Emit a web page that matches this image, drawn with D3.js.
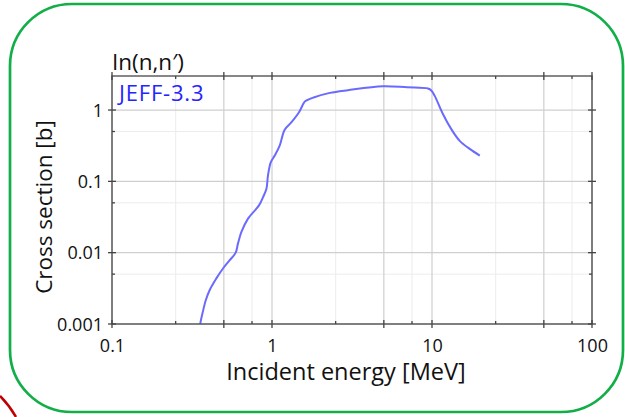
<!DOCTYPE html>
<html>
<head>
<meta charset="utf-8">
<script src="https://cdn.jsdelivr.net/npm/d3@7"></script>
<style>
body { margin: 0; background: #fff; }
text { font-family: "Open Sans", sans-serif; fill: #111; }
</style>
</head>
<body>
<svg id="chart"></svg>
<script>
let w = 625;
let h = 417;
let chart;

// In(n,n') cross section, JEFF-3.3
const energy = [0.350, 0.356, 0.370, 0.386, 0.408, 0.449, 0.494, 0.544, 0.593, 0.613,
    0.644, 0.708, 0.829, 0.879, 0.923, 0.944, 0.982, 1.04, 1.117, 1.2,
    1.32, 1.475, 1.578, 1.62, 1.82, 2.3, 2.98, 4.94, 7.0, 9.44,
    9.9, 10.4, 11.7, 13.2, 14.9, 17.2, 19.9];
const sigma = [0.0007, 0.001, 0.0015, 0.00217, 0.003, 0.00436, 0.006, 0.00785, 0.01, 0.0135,
    0.0195, 0.030, 0.046, 0.060, 0.079, 0.121, 0.185, 0.23, 0.317, 0.53,
    0.67, 0.93, 1.25, 1.34, 1.50, 1.74, 1.90, 2.16, 2.08, 2.0,
    1.88, 1.58, 0.88, 0.54, 0.37, 0.285, 0.23];

const xMajor = [0.1, 0.5, 1, 5, 10, 50, 100];
const xMinor = [0.25, 0.75, 2.5, 7.5, 25, 75];
const xLabels = [0.1, 1, 10, 100];
const yMajor = [0.001, 0.01, 0.1, 1];
const yMinor = [0.005, 0.05, 0.5];
const yLabels = [0.001, 0.01, 0.1, 1];

const plot = {left: 112, right: 592, top: 76, bottom: 324};

function createGraph() {
    chart = d3.select('#chart')
        .attr('width', w)
        .attr('height', h);

    // green rounded frame and the red arc peeking in at the corner
    chart.append('rect')
        .attr('x', 10).attr('y', 4)
        .attr('width', 613).attr('height', 408)
        .attr('rx', 62).attr('ry', 62)
        .style('fill', 'none')
        .style('stroke', '#12ae48')
        .style('stroke-width', 2.7);

    chart.append('path')
        .attr('d', 'M0,396 Q9,405 16,417')
        .style('fill', 'none')
        .style('stroke', '#c00000')
        .style('stroke-width', 2.5);

    const x = d3.scaleLog().domain([0.1, 100]).range([plot.left, plot.right]);
    const y = d3.scaleLog().domain([0.001, 3]).range([plot.bottom, plot.top]);

    // grid
    const grid = chart.append('g');
    grid.selectAll('.vmin').data(xMinor).enter().append('line')
        .attr('x1', d => x(d)).attr('x2', d => x(d))
        .attr('y1', plot.top).attr('y2', plot.bottom)
        .style('stroke', '#ececec').style('stroke-width', 1);
    grid.selectAll('.hmin').data(yMinor).enter().append('line')
        .attr('y1', d => y(d)).attr('y2', d => y(d))
        .attr('x1', plot.left).attr('x2', plot.right)
        .style('stroke', '#ececec').style('stroke-width', 1);
    grid.selectAll('.vmaj').data(xMajor).enter().append('line')
        .attr('x1', d => x(d)).attr('x2', d => x(d))
        .attr('y1', plot.top).attr('y2', plot.bottom)
        .style('stroke', '#cfcfcf').style('stroke-width', 1.2);
    grid.selectAll('.hmaj').data(yMajor).enter().append('line')
        .attr('y1', d => y(d)).attr('y2', d => y(d))
        .attr('x1', plot.left).attr('x2', plot.right)
        .style('stroke', '#cfcfcf').style('stroke-width', 1.2);

    // curve
    chart.append('clipPath').attr('id', 'clip')
        .append('rect')
        .attr('x', plot.left).attr('y', plot.top)
        .attr('width', plot.right - plot.left)
        .attr('height', plot.bottom - plot.top);

    const line = d3.line()
        .x((d, i) => x(energy[i]))
        .y(d => y(d))
        .curve(d3.curveCatmullRom.alpha(0.5));

    chart.append('path')
        .datum(sigma)
        .attr('d', line)
        .attr('clip-path', 'url(#clip)')
        .style('fill', 'none')
        .style('stroke', '#6a6aff')
        .style('stroke-width', 2);

    // frame
    chart.append('rect')
        .attr('x', plot.left).attr('y', plot.top)
        .attr('width', plot.right - plot.left)
        .attr('height', plot.bottom - plot.top)
        .style('fill', 'none')
        .style('stroke', '#555')
        .style('stroke-width', 1.4);

    // tick marks: majors cross the frame, minors point inward
    const tickStyle = sel => sel.style('stroke', '#444').style('stroke-width', 1.3);
    [plot.bottom, plot.top].forEach((yy, k) => {
        const dir = k === 0 ? -1 : 1;
        chart.append('g').selectAll('line').data(xMajor).enter().append('line')
            .attr('x1', d => x(d)).attr('x2', d => x(d))
            .attr('y1', yy - 4).attr('y2', yy + 4)
            .call(tickStyle);
        chart.append('g').selectAll('line').data(xMinor).enter().append('line')
            .attr('x1', d => x(d)).attr('x2', d => x(d))
            .attr('y1', yy).attr('y2', yy + 3 * dir)
            .call(tickStyle);
    });
    [plot.left, plot.right].forEach((xx, k) => {
        const dir = k === 0 ? 1 : -1;
        chart.append('g').selectAll('line').data(yMajor).enter().append('line')
            .attr('y1', d => y(d)).attr('y2', d => y(d))
            .attr('x1', xx - 4).attr('x2', xx + 4)
            .call(tickStyle);
        chart.append('g').selectAll('line').data(yMinor).enter().append('line')
            .attr('y1', d => y(d)).attr('y2', d => y(d))
            .attr('x1', xx).attr('x2', xx + 3 * dir)
            .call(tickStyle);
    });

    // tick labels through the axis generators
    const xAxis = d3.axisBottom(x).tickValues(xLabels).tickSize(0).tickPadding(0)
        .tickFormat(d3.format('~g'));
    const xg = chart.append('g')
        .attr('transform', `translate(0,${plot.bottom})`)
        .call(xAxis);
    xg.select('.domain').remove();
    xg.selectAll('text')
        .attr('y', 28).attr('dy', 0)
        .style('font-size', '18px')
        .style('font-family', '"Open Sans", sans-serif')
        .style('fill', '#111');

    const yAxis = d3.axisLeft(y).tickValues(yLabels).tickSize(0).tickPadding(0)
        .tickFormat(d3.format('~g'));
    const yg = chart.append('g')
        .attr('transform', `translate(${plot.left},0)`)
        .call(yAxis);
    yg.select('.domain').remove();
    yg.selectAll('text')
        .attr('x', -9).attr('dy', '0.35em')
        .style('font-size', '18px')
        .style('font-family', '"Open Sans", sans-serif')
        .style('fill', '#111');

    // titles
    chart.append('text')
        .attr('x', 112).attr('y', 70)
        .style('font-size', '22.5px')
        .text('In(n,n′)');

    chart.append('text')
        .attr('x', 119).attr('y', 101)
        .style('font-size', '22px')
        .style('letter-spacing', '0.8px')
        .style('fill', '#2424ff')
        .text('JEFF-3.3');

    chart.append('text')
        .attr('x', 346).attr('y', 380)
        .style('font-size', '23.5px')
        .style('text-anchor', 'middle')
        .text('Incident energy [MeV]');

    chart.append('text')
        .attr('transform', 'translate(52,207) rotate(-90)')
        .style('font-size', '22.5px')
        .style('text-anchor', 'middle')
        .text('Cross section [b]');
}

createGraph();
</script>
</body>
</html>
